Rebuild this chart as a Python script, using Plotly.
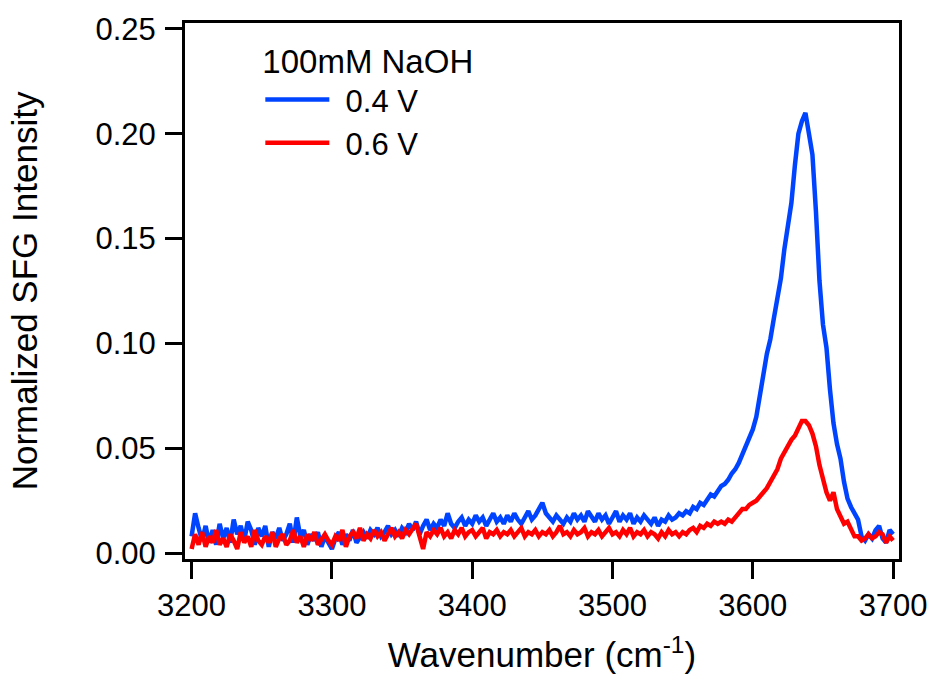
import numpy as np
import plotly.graph_objects as go

# Wavenumber sampling grid (cm^-1)
wavenumber = np.arange(3200.0, 3700.1, 2.5)

# Normalized SFG intensity, 100 mM NaOH, 0.4 V (blue)
sfg_04V = [
    0.008, 0.019, 0.012, 0.006, 0.013, 0.005, 0.011, 0.004, 0.014, 0.007,
    0.012, 0.005, 0.016, 0.009, 0.013, 0.006, 0.015, 0.011, 0.004, 0.012,
    0.008, 0.013, 0.003, 0.010, 0.007, 0.012, 0.006, 0.009, 0.014, 0.005,
    0.017, 0.008, 0.011, 0.004, 0.009, 0.006, 0.010, 0.003, 0.008, 0.005,
    0.002, 0.007, 0.010, 0.004, 0.009, 0.006, 0.011, 0.005, 0.008, 0.010,
    0.007, 0.011, 0.009, 0.012, 0.008, 0.010, 0.013, 0.009, 0.011, 0.008,
    0.012, 0.010, 0.014, 0.011, 0.015, 0.009, 0.013, 0.016, 0.011, 0.014,
    0.012, 0.016, 0.013, 0.019, 0.014, 0.012, 0.015, 0.017, 0.013, 0.016,
    0.014, 0.018, 0.015, 0.017, 0.013, 0.016, 0.019, 0.015, 0.017, 0.014,
    0.018, 0.015, 0.019, 0.016, 0.014, 0.017, 0.020, 0.016, 0.018, 0.021,
    0.024, 0.019, 0.017, 0.015, 0.018, 0.016, 0.014, 0.017, 0.015, 0.019,
    0.016, 0.018, 0.015, 0.020, 0.017, 0.015, 0.019, 0.016, 0.018, 0.014,
    0.017, 0.020, 0.015, 0.018, 0.016, 0.019, 0.014, 0.017, 0.015, 0.018,
    0.016, 0.014, 0.017, 0.013, 0.016, 0.015, 0.018, 0.016, 0.017, 0.019,
    0.018, 0.020, 0.019, 0.022, 0.021, 0.024, 0.023, 0.026, 0.028, 0.027,
    0.030, 0.032, 0.033, 0.035, 0.038, 0.040, 0.043, 0.047, 0.052, 0.055,
    0.059, 0.065, 0.074, 0.085, 0.095, 0.102, 0.112, 0.121, 0.131, 0.145,
    0.155, 0.167, 0.185, 0.200, 0.206, 0.210, 0.200, 0.190, 0.163, 0.130,
    0.109, 0.098, 0.078, 0.062, 0.052, 0.045, 0.034, 0.026, 0.022, 0.019,
    0.016, 0.008, 0.006, 0.009, 0.007, 0.011, 0.013, 0.007, 0.005, 0.011,
    0.009,
]

# Normalized SFG intensity, 100 mM NaOH, 0.6 V (red)
sfg_06V = [
    0.002, 0.009, 0.004, 0.010, 0.003, 0.008, 0.005, 0.011, 0.004, 0.007,
    0.003, 0.009, 0.006, 0.002, 0.010, 0.005, 0.008, 0.003, 0.011, 0.006,
    0.004, 0.008, 0.005, 0.010, 0.003, 0.007, 0.009, 0.004, 0.006, 0.011,
    0.005, 0.008, 0.003, 0.009, 0.006, 0.010, 0.004, 0.007, 0.009, 0.006,
    0.004, 0.008, 0.006, 0.011, 0.003, 0.008, 0.010, 0.007, 0.012, 0.006,
    0.009, 0.007, 0.011, 0.008, 0.010, 0.006, 0.009, 0.012, 0.008, 0.010,
    0.007, 0.011, 0.009, 0.012, 0.014, 0.008, 0.002, 0.010, 0.008, 0.011,
    0.009, 0.012, 0.008, 0.010, 0.007, 0.011, 0.009, 0.012, 0.008, 0.010,
    0.011, 0.008, 0.010, 0.012, 0.007, 0.010, 0.009, 0.011, 0.008, 0.010,
    0.009, 0.011, 0.008, 0.010, 0.012, 0.008, 0.010, 0.009, 0.011, 0.008,
    0.010, 0.009, 0.011, 0.008, 0.010, 0.013, 0.009, 0.010, 0.008, 0.011,
    0.009, 0.010, 0.012, 0.008, 0.010, 0.009, 0.011, 0.008, 0.010, 0.012,
    0.009, 0.010, 0.008, 0.011, 0.009, 0.012, 0.008, 0.010, 0.009, 0.011,
    0.008, 0.010, 0.009, 0.007, 0.010, 0.008, 0.011, 0.009, 0.010, 0.008,
    0.010, 0.009, 0.011, 0.012, 0.010, 0.013, 0.012, 0.014, 0.013, 0.015,
    0.014, 0.015, 0.014, 0.016, 0.015, 0.017, 0.019, 0.021, 0.021, 0.023,
    0.024, 0.025, 0.027, 0.029, 0.031, 0.034, 0.037, 0.040, 0.045, 0.048,
    0.052, 0.054, 0.056, 0.060, 0.063, 0.063, 0.061, 0.057, 0.051, 0.042,
    0.035, 0.029, 0.025, 0.029, 0.021, 0.018, 0.014, 0.015, 0.011, 0.008,
    0.008, 0.006, 0.007, 0.009, 0.007, 0.008, 0.010, 0.009, 0.005, 0.008,
    0.006,
]

legend_title = "100mM NaOH"
series_names = ["0.4 V", "0.6 V"]
series_colors = ["#0044FF", "#FF0000"]

FONT = "Liberation Sans, Arial, sans-serif"
GAP = "\u00a0\u200a"  # small gap between legend line sample and label

fig = go.Figure()
for name, vals, col in zip(series_names, [sfg_04V, sfg_06V], series_colors):
    fig.add_trace(go.Scatter(
        x=wavenumber, y=vals, mode="lines", name=GAP + name,
        line=dict(color=col, width=4.5),
    ))

axis_common = dict(
    showline=True, linecolor="black", linewidth=3, mirror=True,
    ticks="outside", ticklen=17, tickwidth=3, tickcolor="black",
    showgrid=False, zeroline=False,
    tickfont=dict(family=FONT, size=31, color="black"),
)

fig.update_layout(
    width=940, height=681,
    margin=dict(l=185, r=33, t=19, b=120),
    paper_bgcolor="white", plot_bgcolor="white",
    font=dict(family=FONT, color="black"),
    xaxis=dict(
        range=[3195.3, 3704.2], dtick=100, tick0=3200,
        title=dict(text="Wavenumber (cm<sup>-1</sup>)",
                   font=dict(family=FONT, size=35), standoff=21),
        **axis_common,
    ),
    yaxis=dict(
        range=[-0.0028, 0.2528], dtick=0.05, tick0=0, tickformat=".2f",
        ticklabelstandoff=3,
        title=dict(text="Normalized SFG Intensity\u00a0\u00a0\u00a0",
                   font=dict(family=FONT, size=35), standoff=48),
        **axis_common,
    ),
    legend=dict(
        title=dict(text=legend_title, font=dict(family=FONT, size=33)),
        font=dict(family=FONT, size=31),
        x=0.1055, y=0.987, xanchor="left", yanchor="top",
        bgcolor="rgba(0,0,0,0)", itemwidth=64,
        tracegroupgap=0,
    ),
)

fig.write_html("out.html")
